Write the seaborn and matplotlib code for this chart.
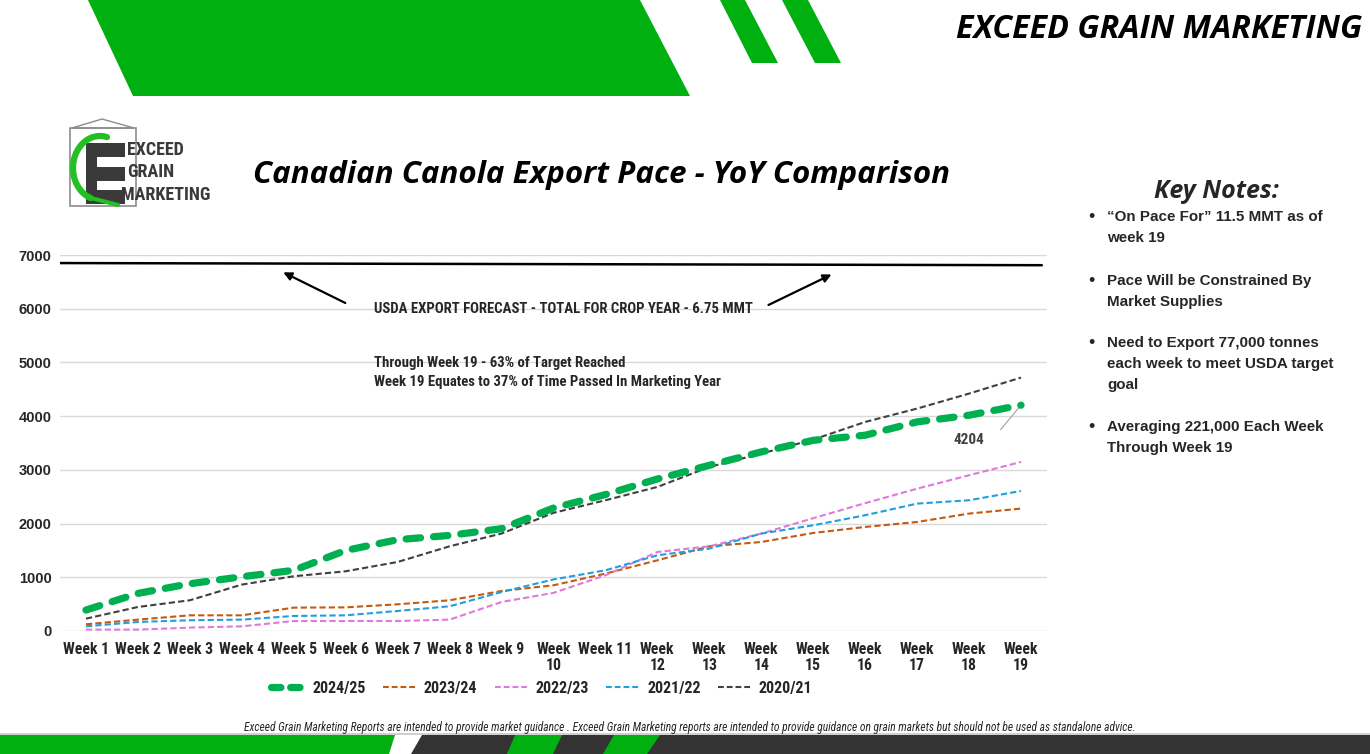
import numpy as np
import pandas as pd
import matplotlib
matplotlib.use("Agg")
import matplotlib.pyplot as plt
from matplotlib import font_manager
from matplotlib.patches import Polygon, Rectangle
from matplotlib.lines import Line2D
import seaborn as sns

weeks = [f"Week {i}" for i in range(1, 20)]
week_labels = ["Week 1", "Week 2", "Week 3", "Week 4", "Week 5", "Week 6", "Week 7",
               "Week 8", "Week 9", "Week\n10", "Week 11", "Week\n12", "Week\n13",
               "Week\n14", "Week\n15", "Week\n16", "Week\n17", "Week\n18", "Week\n19"]

y2425 = [390, 700, 880, 1010, 1130, 1500, 1700, 1780, 1905, 2290, 2540, 2830,
         3085, 3334, 3550, 3645, 3893, 4017, 4204]
y2324 = [125, 212, 292, 292, 435, 440, 497, 572, 745, 851, 1068, 1316,
         1577, 1657, 1825, 1937, 2030, 2186, 2279]
y2223 = [26, 26, 63, 87, 186, 186, 186, 212, 540, 710, 1037, 1471,
         1577, 1814, 2100, 2380, 2650, 2900, 3147]
y2122 = [87, 168, 200, 212, 280, 292, 373, 460, 726, 960, 1130, 1410,
         1534, 1814, 1968, 2155, 2372, 2434, 2607]
y2021 = [230, 447, 572, 864, 1019, 1112, 1285, 1577, 1814, 2200, 2434, 2682,
         3054, 3303, 3564, 3892, 4141, 4420, 4718]
usda_line = 6830

series = {
    "2024/25": y2425,
    "2023/24": y2324,
    "2022/23": y2223,
    "2021/22": y2122,
    "2020/21": y2021,
}
colors = {
    "2024/25": "#00B050",
    "2023/24": "#C55A11",
    "2022/23": "#E07AD8",
    "2021/22": "#1F9FDE",
    "2020/21": "#404040",
}

rows = []
for name, vals in series.items():
    for i, v in enumerate(vals):
        rows.append({"week": i, "label": weeks[i], "season": name, "value": v})
df = pd.DataFrame(rows)

sns.set_style("white")
plt.rcParams["font.family"] = ["Liberation Sans", "DejaVu Sans"]
wide = ["Open Sans", "DejaVu Sans"]

# pick a condensed face if one is installed, else shrink Liberation Sans
fonts = font_manager.fontManager.ttflist
names = {f.name for f in fonts}
narrow_kw = {"family": ["Liberation Sans", "DejaVu Sans"]}
nscale = 0.84
for cand in ["Liberation Sans Narrow", "Roboto Condensed", "DejaVu Sans Condensed",
             "Open Sans Condensed", "Noto Sans Condensed"]:
    if cand in names:
        narrow_kw = {"family": [cand, "Liberation Sans"]}
        nscale = 1.0
        break
else:
    for fam in ["Roboto", "Noto Sans", "Open Sans"]:
        if any(f.name == fam and str(f.stretch) in ("condensed", "semi-condensed") for f in fonts):
            narrow_kw = {"family": [fam], "stretch": "condensed"}
            nscale = 1.0
            break

fig = plt.figure(figsize=(13.7, 7.54), dpi=100)

# background decoration layer in pixel coords
bg = fig.add_axes([0, 0, 1, 1])
bg.set_xlim(0, 1370)
bg.set_ylim(754, 0)
bg.axis("off")
green = "#00B011"
bg.add_patch(Polygon([(88, 0), (640, 0), (690, 96), (133, 96)], closed=True, color=green, lw=0))
bg.add_patch(Polygon([(720, 0), (745, 0), (778, 63), (752, 63)], closed=True, color=green, lw=0))
bg.add_patch(Polygon([(782, 0), (808, 0), (841, 63), (815, 63)], closed=True, color=green, lw=0))
# bottom band
bg.add_patch(Rectangle((0, 733), 1370, 1.5, color="#D0D0D0", lw=0))
bg.add_patch(Polygon([(0, 735), (395, 735), (389, 754), (0, 754)], closed=True, color=green, lw=0))
bg.add_patch(Polygon([(422, 735), (1370, 735), (1370, 754), (411, 754)], closed=True, color="#333333", lw=0))
bg.add_patch(Polygon([(515, 735), (562, 735), (553, 754), (507, 754)], closed=True, color=green, lw=0))
bg.add_patch(Polygon([(614, 735), (660, 735), (647, 754), (603, 754)], closed=True, color=green, lw=0))

# logo
bg.add_patch(Rectangle((70, 128), 66, 78, fill=False, ec="#8C8C8C", lw=1.2))
bg.add_patch(Polygon([(72, 128), (102, 119), (134, 128)], closed=True, fill=False, ec="#8C8C8C", lw=1.0))
for yy in (143, 167, 190):
    bg.add_patch(Rectangle((95, yy), 30, 14, color="#3A3A3A", lw=0))
bg.add_patch(Rectangle((86, 143), 11, 61, color="#3A3A3A", lw=0))
th = np.linspace(np.deg2rad(75), np.deg2rad(250), 60)
bg.plot(100 + 27 * np.cos(th), 168 - 32 * np.sin(th), color="#22C022", lw=4.5, solid_capstyle="round")
bg.plot([91, 118], [198, 205], color="#22C022", lw=3, solid_capstyle="round")
for yy, word, xx in ((150, "EXCEED", 127), (172, "GRAIN", 127), (195, "MARKETING", 121)):
    bg.text(xx, yy, word, fontsize=13 * nscale ** 0.5, fontweight="bold", color="#3A3A3A",
            va="center", ha="left", **narrow_kw)

bg.text(1362, 30, "EXCEED GRAIN MARKETING", fontsize=23.2, fontweight="bold", style="italic",
        ha="right", va="center", color="black", family=wide)
bg.text(602, 175, "Canadian Canola Export Pace - YoY Comparison", fontsize=22.5, fontweight="bold",
        style="italic", ha="center", va="center", color="black", family=wide)

# key notes
bg.text(1216, 191, "Key Notes:", fontsize=18, fontweight="bold", style="italic",
        ha="center", va="center", family=wide)
notes = [
    (217, ["\u201cOn Pace For\u201d 11.5 MMT as of", "week 19"]),
    (281, ["Pace Will be Constrained By", "Market Supplies"]),
    (343, ["Need to Export 77,000 tonnes", "each week to meet USDA target", "goal"]),
    (427, ["Averaging 221,000 Each Week", "Through Week 19"]),
]
for y0, lines in notes:
    bg.text(1091, y0, "\u2022", fontsize=13, ha="center", va="center")
    for k, ln in enumerate(lines):
        bg.text(1107, y0 + k * 21, ln, fontsize=10.9, fontweight="bold", ha="left", va="center")

bg.text(690, 727, "Exceed Grain Marketing Reports are intended to provide market guidance . Exceed Grain "
        "Marketing reports are intended to provide guidance on grain markets but should not be used as "
        "standalone advice.", fontsize=8.3 * nscale, style="italic", ha="center", va="center", **narrow_kw)

# main chart
ax = fig.add_axes([60 / 1370, 1 - 631 / 754, 987 / 1370, 376 / 754])
ax.set_facecolor("none")

for name in series:
    sub = df[df["season"] == name]
    if name == "2024/25":
        sns.lineplot(data=sub, x="week", y="value", ax=ax, color=colors[name], lw=5.2, zorder=4)
        ax.lines[-1].set_dashes((2.0, 1.8))
        ax.lines[-1].set_dash_capstyle("round")
    else:
        sns.lineplot(data=sub, x="week", y="value", ax=ax, color=colors[name], lw=1.5, zorder=3)
        ax.lines[-1].set_dashes((3.0, 1.5))

ax.plot([-0.52, 18.4], [usda_line + 20, usda_line - 20], color="black", lw=1.8, zorder=3)

ax.set_xlim(-0.5, 18.5)
ax.set_ylim(0, 7000)
ax.set_yticks(range(0, 7001, 1000))
ax.set_yticklabels([str(v) for v in range(0, 7001, 1000)], fontweight="bold", fontsize=10.5)
ax.set_xticks(range(19))
ax.set_xticklabels(week_labels, fontweight="bold", fontsize=11.3 * nscale, linespacing=1.05,
                   va="top", **narrow_kw)
ax.tick_params(axis="both", length=0)
ax.tick_params(axis="y", pad=6)
ax.tick_params(axis="x", pad=8)
ax.grid(axis="y", color="#D9D9D9", lw=1)
ax.set_axisbelow(True)
for s in ax.spines.values():
    s.set_visible(False)
ax.set_xlabel("")
ax.set_ylabel("")

# annotations
txt = dict(fontsize=10.6 * nscale, fontweight="bold", ha="left", va="center", **narrow_kw)
ax.text(5.55, 6000, "USDA EXPORT FORECAST - TOTAL FOR CROP YEAR - 6.75 MMT", **txt)
ax.text(5.55, 4990, "Through Week 19 - 63% of Target Reached", **txt)
ax.text(5.55, 4640, "Week 19 Equates to 37% of Time Passed In Marketing Year", **txt)
ax.annotate("", xy=(3.75, 6700), xytext=(5.04, 6084),
            arrowprops=dict(arrowstyle="-|>", color="black", lw=1.6, mutation_scale=12))
ax.annotate("", xy=(14.4, 6660), xytext=(13.09, 6047),
            arrowprops=dict(arrowstyle="-|>", color="black", lw=1.6, mutation_scale=12))
ax.annotate("4204", xy=(18, y2425[-1]), xytext=(17.0, 3551), fontsize=11 * nscale ** 0.5,
            fontweight="bold", color="#404040", ha="center", va="center", **narrow_kw,
            arrowprops=dict(arrowstyle="-", color="#A0A0A0", lw=0.8,
                            connectionstyle="angle,angleA=0,angleB=50,rad=0", shrinkA=12, shrinkB=2))

handles = [Line2D([0], [0], color=colors[n], lw=(5.2 if n == "2024/25" else 1.5),
                  dashes=((1.3, 1.35) if n == "2024/25" else (2.8, 1.4)),
                  dash_capstyle=("round" if n == "2024/25" else "butt")) for n in series]
prop = {"weight": "bold", "size": 11.5 * nscale}
prop.update(narrow_kw)
fig.legend(handles, list(series.keys()), loc="center", bbox_to_anchor=(542 / 1370, 1 - 688 / 754),
           ncol=5, frameon=False, prop=prop, handlelength=2.1, columnspacing=1.1, handletextpad=0.45)

fig.savefig("out.png", dpi=100)
